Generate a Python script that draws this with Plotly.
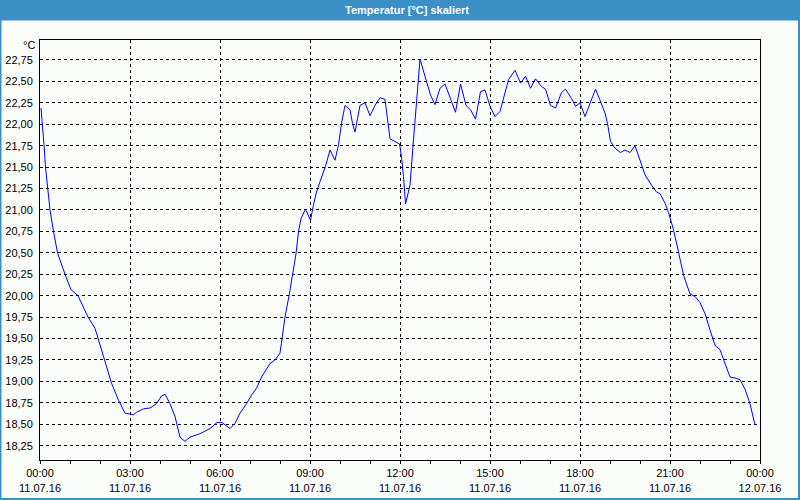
import plotly.graph_objects as go

DAY = "2016-07-11"
times = ["00:02", "00:05", "00:08", "00:11", "00:15", "00:20", "00:27", "00:35", "00:50", "01:02",
         "01:16", "01:36", "01:50", "01:56", "02:10", "02:23", "02:37", "02:50", "02:59", "03:07",
         "03:13", "03:27", "03:40", "03:53", "04:03", "04:10", "04:20", "04:30", "04:40", "04:50",
         "05:00", "05:20", "05:40", "05:54", "06:04", "06:20", "06:30", "06:40", "06:53", "07:03",
         "07:13", "07:23", "07:40", "07:50", "08:00", "08:03", "08:10", "08:19", "08:25", "08:32",
         "08:37", "08:42", "08:51", "09:01", "09:07", "09:13", "09:20", "09:31", "09:40", "09:50",
         "09:57", "10:03", "10:10", "10:20", "10:25", "10:30", "10:40", "10:50", "11:00", "11:10",
         "11:20", "11:30", "11:40", "11:50", "11:59", "12:03", "12:07", "12:11", "12:20", "12:27",
         "12:32", "12:40", "12:53", "13:01", "13:10", "13:20", "13:30", "13:40", "13:51", "14:01",
         "14:12", "14:21", "14:31", "14:41", "14:50", "15:00", "15:10", "15:20", "15:37", "15:50",
         "16:01", "16:11", "16:21", "16:31", "16:43", "16:51", "17:01", "17:11", "17:23", "17:31",
         "17:43", "17:51", "18:00", "18:10", "18:20", "18:31", "18:40", "18:50", "18:55", "19:01",
         "19:10", "19:21", "19:30", "19:40", "19:50", "20:00", "20:10", "20:23", "20:33", "20:40",
         "20:50", "20:57", "21:07", "21:17", "21:27", "21:40", "21:50", "22:00", "22:10", "22:20",
         "22:30", "22:40", "22:50", "23:00", "23:10", "23:20", "23:30", "23:40", "23:50"]
temps = [22.19, 22.00, 21.76, 21.50, 21.25, 21.00, 20.75, 20.50, 20.25, 20.07,
         20.00, 19.75, 19.62, 19.50, 19.22, 18.98, 18.78, 18.63, 18.62, 18.61,
         18.64, 18.68, 18.69, 18.74, 18.83, 18.85, 18.74, 18.59, 18.35, 18.30,
         18.35, 18.39, 18.45, 18.52, 18.52, 18.45, 18.51, 18.63, 18.74, 18.84,
         18.92, 19.05, 19.21, 19.25, 19.33, 19.46, 19.75, 20.03, 20.26, 20.49,
         20.75, 20.90, 21.01, 20.88, 21.06, 21.21, 21.33, 21.51, 21.70, 21.58,
         21.76, 22.01, 22.22, 22.17, 22.01, 21.91, 22.22, 22.25, 22.10, 22.22,
         22.31, 22.29, 21.83, 21.80, 21.77, 21.62, 21.39, 21.07, 21.29, 21.82,
         22.21, 22.76, 22.50, 22.34, 22.23, 22.42, 22.47, 22.30, 22.14, 22.47,
         22.22, 22.17, 22.06, 22.38, 22.40, 22.21, 22.09, 22.15, 22.52, 22.63,
         22.48, 22.56, 22.42, 22.53, 22.44, 22.41, 22.22, 22.19, 22.37, 22.41,
         22.30, 22.21, 22.25, 22.09, 22.25, 22.41, 22.28, 22.13, 22.01, 21.80,
         21.72, 21.67, 21.70, 21.67, 21.75, 21.58, 21.41, 21.29, 21.21, 21.19,
         21.08, 20.97, 20.77, 20.51, 20.24, 20.02, 19.99, 19.92, 19.79, 19.60,
         19.42, 19.37, 19.21, 19.05, 19.04, 19.02, 18.91, 18.74, 18.49]

title_text = "Temperatur [°C] skaliert"
unit_text = "°C"
x_range = ["2016-07-11 00:00", "2016-07-12 00:00"]
y_range = [18.083, 22.983]

xs = [f"{DAY} {t}" for t in times]

BG = "#fbfdfb"
BLUE = "#3b8fc7"
FONT = "Liberation Sans"

fig = go.Figure()
fig.add_trace(go.Scatter(x=xs, y=temps, mode="lines",
                         line=dict(color="#0000ff", width=1), hoverinfo="skip"))

# paper coords of the full figure: plot area is 720x420 at (40,40)
def px(x):
    return (x - 40) / 720.0

def py(y):
    return (460 - y) / 420.0

fig.update_layout(
    width=800, height=500,
    margin=dict(l=40, r=40, t=40, b=40),
    paper_bgcolor=BG, plot_bgcolor=BG,
    showlegend=False,
    separators=",.",
    font=dict(family=FONT, size=11, color="#000000"),
    xaxis=dict(
        type="date", range=x_range, automargin=False,
        dtick=3 * 3600000, tick0="2016-07-11 00:00",
        tickformat="%H:%M<br>%d.%m.%y",
        showline=True, linecolor="#000000", linewidth=1, mirror=True,
        ticks="outside", ticklen=3, tickcolor="#000000",
        showgrid=True, gridcolor="#000000", gridwidth=1, griddash="3px,3px",
        minor=dict(dtick=3600000, ticks="outside", ticklen=3, tickcolor="#000000", showgrid=False),
        zeroline=False, fixedrange=True,
        tickfont=dict(family=FONT, size=11, color="#000000"),
    ),
    yaxis=dict(
        range=y_range, tick0=18.25, dtick=0.25, tickformat=".2f", automargin=False,
        showline=True, linecolor="#000000", linewidth=1, mirror=True,
        ticks="", ticklabelstandoff=4,
        showgrid=True, gridcolor="#000000", gridwidth=1, griddash="3px,3px",
        zeroline=False, fixedrange=True,
        tickfont=dict(family=FONT, size=11, color="#000000"),
    ),
    shapes=[
        dict(type="rect", xref="paper", yref="paper",
             x0=px(0), x1=px(800), y0=py(20.5), y1=py(0),
             fillcolor=BLUE, line=dict(width=0), layer="above"),
        dict(type="rect", xref="paper", yref="paper",
             x0=px(0.5), x1=px(799), y0=py(499), y1=py(0.5),
             fillcolor="rgba(0,0,0,0)", line=dict(color=BLUE, width=2), layer="above"),
    ],
    annotations=[
        dict(text=f"<b>{title_text}</b>", xref="paper", yref="paper",
             x=px(407), y=py(10), xanchor="center", yanchor="middle",
             showarrow=False, font=dict(family=FONT, size=11, color="#ffffff")),
        dict(text=unit_text, xref="paper", yref="paper",
             x=px(37), y=py(45), xanchor="right", yanchor="middle",
             showarrow=False, font=dict(family=FONT, size=11, color="#000000")),
    ],
)

fig.write_html("out.html")
